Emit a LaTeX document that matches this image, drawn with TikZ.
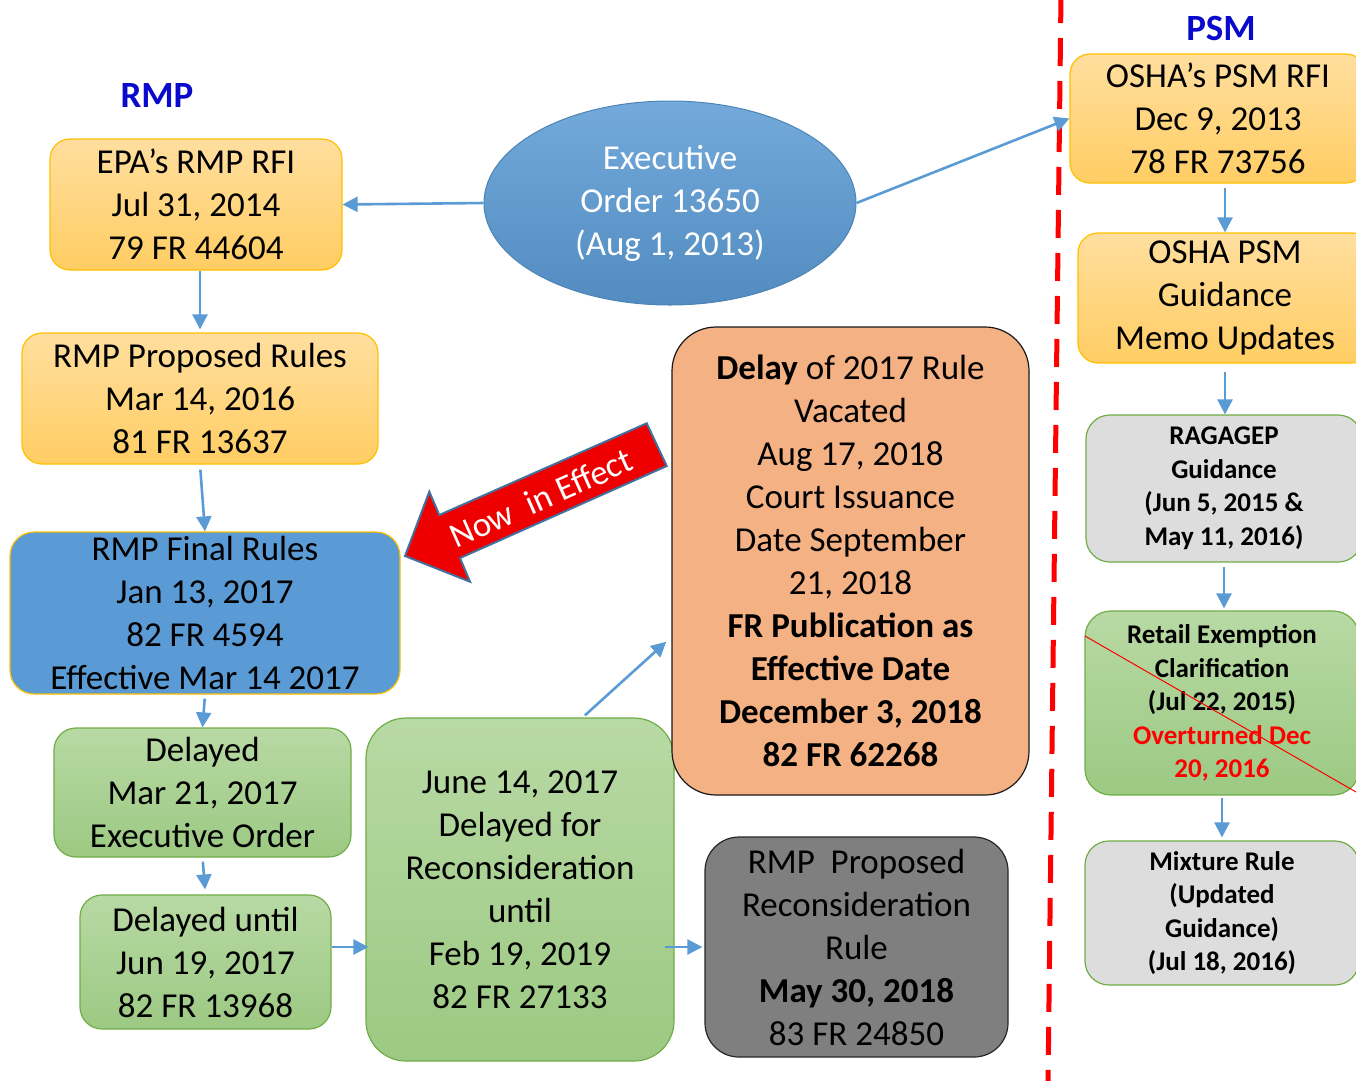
\documentclass[tikz,border=0pt]{standalone}
\usepackage{fontspec}
\setmainfont{Carlito}
\usepackage{xcolor}
\usepackage{tikz}
\usetikzlibrary{arrows.meta, calc, shapes.geometric}
\definecolor{Flow}{HTML}{5B9BD5}
\definecolor{TitleBlue}{HTML}{0A0ACC}
\definecolor{Gold}{HTML}{FFC000}
\definecolor{AmberTop}{HTML}{FFDE9E}
\definecolor{AmberBot}{HTML}{FFCD63}
\definecolor{FinalBlue}{HTML}{5B9BD5}
\definecolor{LeafTop}{HTML}{B8D9A4}
\definecolor{LeafBot}{HTML}{9CC983}
\definecolor{LeafEdge}{HTML}{70AD47}
\definecolor{Peach}{HTML}{F4B183}
\definecolor{Slate}{HTML}{7F7F7F}
\definecolor{Mist}{HTML}{DDDDDD}
\definecolor{Alarm}{HTML}{FF0000}
\definecolor{ArrowRed}{HTML}{EE0000}
\definecolor{ArrowEdge}{HTML}{41719C}
\tikzset{
  flow/.style={-{Triangle[length=15pt, width=15pt]}, line width=2.6pt, color=Flow},
  boxtext/.style={align=center, inner sep=0pt, font=\fontsize{35}{43}\selectfont},
  memotext/.style={align=center, inner sep=0pt, font=\fontsize{27}{33.5}\selectfont\bfseries},
  title/.style={color=TitleBlue, font=\fontsize{37}{44}\selectfont\bfseries},
  amber/.style={boxtext, rectangle, rounded corners=20pt, draw=Gold, line width=1.2pt, top color=AmberTop, bottom color=AmberBot},
  final/.style={boxtext, rectangle, rounded corners=24pt, draw=Gold, line width=1.2pt, fill=FinalBlue},
  leaf/.style={boxtext, rectangle, rounded corners=22pt, draw=LeafEdge, line width=1.2pt, top color=LeafTop, bottom color=LeafBot},
  slate/.style={boxtext, rectangle, rounded corners=34pt, draw=black!85, line width=1.2pt, fill=Slate},
  peach/.style={boxtext, rectangle, rounded corners=44pt, draw=black!90, line width=1.2pt, fill=Peach},
  mist/.style={memotext, rectangle, rounded corners=24pt, draw=LeafEdge, line width=1.2pt, fill=Mist},
  mistleaf/.style={memotext, rectangle, rounded corners=26pt, draw=LeafEdge, line width=1.2pt, top color=LeafTop, bottom color=LeafBot},
  divider/.style={color=Alarm, line width=5pt, dash pattern=on 28pt off 15pt},
}

\begin{document}
\begin{tikzpicture}[x=1pt, y=-1pt]
  \useasboundingbox (0,0) rectangle (1356,1080);
  \clip (0,0) rectangle (1356,1080);

  % Titles
  \node[title] (rmp) at (157,95) {RMP};
  \node[title] (psm) at (1221,28) {PSM};

  % RMP side
  \node[amber, minimum width=292pt, minimum height=131pt] (epa) at (196,204.5)
    {EPA’s RMP RFI\\Jul 31, 2014\\79 FR 44604};
  \node[amber, minimum width=356pt, minimum height=131pt] (prop) at (200,398.5)
    {RMP Proposed Rules\\Mar 14, 2016\\81 FR 13637};
  \node[final, minimum width=390pt, minimum height=162pt] (final) at (205,613)
    {RMP Final Rules\\Jan 13, 2017\\82 FR 4594\\Effective Mar 14 2017};
  \node[leaf, minimum width=297pt, minimum height=129pt] (delay) at (202.5,792.5)
    {Delayed\\Mar 21, 2017\\Executive Order};
  \node[leaf, minimum width=251pt, minimum height=134pt] (until) at (205.5,962)
    {Delayed until\\Jun 19, 2017\\82 FR 13968};
  \node[leaf, rounded corners=40pt, minimum width=308pt, minimum height=343pt] (recon) at (520,889.5)
    {June 14, 2017\\Delayed for\\Reconsideration\\until\\Feb 19, 2019\\82 FR 27133};
  \node[slate, minimum width=303pt, minimum height=220pt] (propose) at (856.5,947)
    {RMP\ \ Proposed\\Reconsideration\\Rule\\\textbf{May 30, 2018}\\83 FR 24850};
  \node[peach, minimum width=357pt, minimum height=468pt] (vacated) at (850.5,561)
    {\textbf{Delay} of 2017 Rule\\Vacated\\Aug 17, 2018\\Court Issuance\\Date September\\21, 2018\\
     \textbf{FR Publication as}\\\textbf{Effective Date}\\\textbf{December 3, 2018}\\\textbf{82 FR 62268}};

  % Executive order
  \node[boxtext, ellipse, draw=Flow!85!black, line width=1pt, top color=Flow!85!white, bottom color=Flow!90!black,
        text=white, minimum width=372pt, minimum height=204pt] (exec) at (670,203)
    {Executive\\Order 13650\\(Aug 1, 2013)};

  % Divider
  \coordinate (cutTop) at (1061,-5);
  \coordinate (cutBot) at (1048,1085);
  \draw[divider] (cutTop) -- (cutBot);

  % PSM side
  \node[amber, minimum width=296pt, minimum height=129pt] (oshrfi) at (1218,118.5)
    {OSHA’s PSM RFI\\Dec 9, 2013\\78 FR 73756};
  \node[amber, minimum width=294pt, minimum height=130pt] (memo) at (1225,298)
    {OSHA PSM\\Guidance\\Memo Updates};
  \node[mist, minimum width=276pt, minimum height=147pt] (ragagep) at (1224,488.5)
    {RAGAGEP\\Guidance\\(Jun 5, 2015 \&\\May 11, 2016)};
  \node[mistleaf, minimum width=274pt, minimum height=184pt] (retail) at (1222,703)
    {Retail Exemption\\Clarification\\(Jul 22, 2015)\\\textcolor{Alarm}{Overturned Dec}\\\textcolor{Alarm}{20, 2016}};
  \node[mist, minimum width=274pt, minimum height=144pt] (mixture) at (1222,913)
    {Mixture Rule\\(Updated\\Guidance)\\(Jul 18, 2016)};

  % Strike through the overturned memo
  \coordinate (strikeA) at (1085,636);
  \coordinate (strikeB) at (1356,792);
  \draw[Alarm, line width=1pt] (strikeA) -- (strikeB);

  % Now in effect arrow
  \filldraw[fill=ArrowRed, draw=ArrowEdge, line width=2pt, line join=miter]
    (646.7,423.3) -- (666.7,466) -- (460,558) -- (470,581.7) -- (405,556)
    -- (429.3,491.7) -- (439.3,515) -- cycle;
  \node[white, rotate=24, font=\fontsize{35}{40}\selectfont] (effect) at (541,498) {Now\ \ in Effect};

  % Connectors
  \draw[flow] (exec.west) -- (epa.east);
  \draw[flow] (exec.east) -- (oshrfi.west);
  \draw[flow, shorten >=3pt] (prop.north |- epa.south) -- (prop.north);
  \draw[flow, shorten <=5pt] (prop.south) -- (final.north);
  \draw[flow, shorten <=4pt] (final.south) -- (delay.north);
  \draw[flow, shorten <=4pt, shorten >=5pt] (delay.south) -- (until.north);
  \draw[flow, shorten >=-3pt] (until.east |- propose.west) -- (recon.west |- propose.west);
  \draw[flow, shorten <=3pt, shorten >=7pt] (recon.70) -- (vacated.203);
  \draw[flow, shorten <=-10pt, shorten >=2pt] (recon.east |- propose.west) -- (propose.west);
  \draw[flow, shorten <=4pt] (memo.north |- oshrfi.south) -- (memo.north);
  \draw[flow, shorten <=8pt] (memo.south) -- (memo.south |- ragagep.north);
  \draw[flow, shorten <=4pt, shorten >=2pt] (ragagep.south) -- (ragagep.south |- retail.north);
  \draw[flow, shorten <=2pt, shorten >=3pt] (retail.south) -- (mixture.north);
\end{tikzpicture}
\end{document}
